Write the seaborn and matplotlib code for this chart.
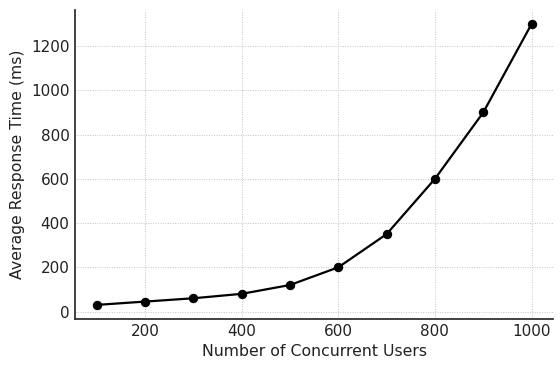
import matplotlib
matplotlib.use("Agg")
import matplotlib.pyplot as plt
import seaborn as sns
import pandas as pd

users = [100, 200, 300, 400, 500, 600, 700, 800, 900, 1000]
response_ms = [30, 45, 60, 80, 120, 200, 350, 600, 900, 1300]

sns.set_theme(style="ticks")
plt.rcParams['font.family'] = ['DejaVu Sans']

df = pd.DataFrame({"users": users, "response": response_ms})

fig = plt.figure(figsize=(5.6, 3.7), dpi=100)
ax = fig.add_axes([0.134, 0.138, 0.854, 0.835])
sns.lineplot(data=df, x="users", y="response", ax=ax, color="black",
             marker="o", markersize=6, linewidth=1.6, markeredgecolor="black")

ax.set_xlabel("Number of Concurrent Users", fontsize=11.3, color="#222222", labelpad=3)
ax.set_ylabel("Average Response Time (ms)", fontsize=11.3, color="#222222", labelpad=4)
ax.set_xticks([200, 400, 600, 800, 1000])
ax.set_yticks([0, 200, 400, 600, 800, 1000, 1200])
ax.tick_params(length=0, labelsize=11, pad=4, colors="#222222")
ax.grid(True, linestyle=(0, (1, 1.5)), color="#c4c4c4", linewidth=0.7)
for s in ["top", "right"]:
    ax.spines[s].set_visible(False)
for s in ["left", "bottom"]:
    ax.spines[s].set_color("#333333")
    ax.spines[s].set_linewidth(1.3)

fig.savefig("out.png", dpi=100)
